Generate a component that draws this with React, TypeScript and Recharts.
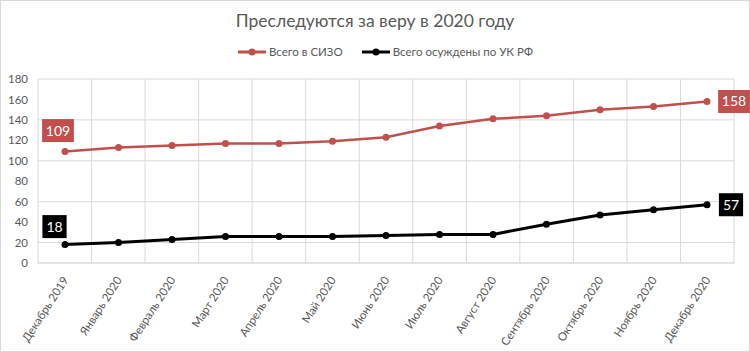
import React from 'react';
import { LineChart, Line, XAxis, YAxis, CartesianGrid, LabelList } from 'recharts';

const months = [
  'Декабрь 2019', 'Январь 2020', 'Февраль 2020', 'Март 2020', 'Апрель 2020', 'Май 2020', 'Июнь 2020',
  'Июль 2020', 'Август 2020', 'Сентябрь 2020', 'Октябрь 2020', 'Ноябрь 2020', 'Декабрь 2020',
];
const sizo = [109, 113, 115, 117, 117, 119, 123, 134, 141, 144, 150, 153, 158];
const convicted = [18, 20, 23, 26, 26, 26, 27, 28, 28, 38, 47, 52, 57];
const yTicks = [0, 20, 40, 60, 80, 100, 120, 140, 160, 180];

const RED = '#c0504d';
const BLACK = '#000000';
const FONT = 'Lato, "Open Sans", sans-serif';

const data = months.map((m, i) => ({ month: m, sizo: sizo[i], convicted: convicted[i] }));

const XTick = (props: any) => {
  const { x, y, payload } = props;
  return (
    <g transform={`translate(${x + 4},${y + 9})`}>
      <text x={0} y={0} textAnchor="end" fontSize={11.5} fill="#595959" fontFamily={FONT} transform="rotate(-57)">
        {payload.value}
      </text>
    </g>
  );
};

// labels only on the first and last point
const makeLabel = (color: string, first: [number, number], last: [number, number]) => (props: any) => {
  const { x, y, value, index } = props;
  if (index !== 0 && index !== months.length - 1) return null;
  const [dx, dy] = index === 0 ? first : last;
  const w = String(value).length * 7.6 + 9;
  const h = 23;
  const cx = x + dx;
  const cy = y + dy;
  return (
    <g>
      <rect x={cx - w / 2} y={cy - h / 2} width={w} height={h} fill={color} />
      <text x={cx} y={cy + 5} textAnchor="middle" fontSize={14} fill="#fff" fontFamily={FONT}>
        {value}
      </text>
    </g>
  );
};

const gridX = (props: any) => {
  const off = props?.offset ?? { left: 38, width: 696 };
  return Array.from({ length: months.length + 1 }, (_, i) => off.left + (i * off.width) / months.length);
};

export default function App() {
  return (
    <div style={{ position: 'absolute', left: 0, top: 0, width: 750, height: 352, background: '#fff', fontFamily: FONT }}>
      <div style={{ position: 'absolute', left: 0, top: 0, width: 750, height: 352, boxSizing: 'border-box', border: '1px solid #d9d9d9', pointerEvents: 'none' }} />
      <div style={{ position: 'absolute', left: 0, top: 10, width: 750, textAlign: 'center', fontSize: 17.5, color: '#595959' }}>
        Преследуются за веру в 2020 году
      </div>
      <div style={{ position: 'absolute', left: 238, top: 45, display: 'flex', alignItems: 'center', fontSize: 11.5, color: '#595959' }}>
        <svg width={28} height={10}><line x1={0} y1={5} x2={28} y2={5} stroke={RED} strokeWidth={3} /><circle cx={14} cy={5} r={3.5} fill={RED} /></svg>
        <span style={{ marginLeft: 3 }}>Всего в СИЗО</span>
        <svg width={28} height={10} style={{ marginLeft: 19 }}><line x1={0} y1={5} x2={28} y2={5} stroke={BLACK} strokeWidth={3} /><circle cx={14} cy={5} r={3.5} fill={BLACK} /></svg>
        <span style={{ marginLeft: 3 }}>Всего осуждены по УК РФ</span>
      </div>
      <LineChart width={750} height={352} data={data} margin={{ top: 79, right: 16, left: 0, bottom: 0 }} style={{ position: 'absolute', left: 0, top: 0 }}>
        <CartesianGrid stroke="#d9d9d9" verticalCoordinatesGenerator={gridX} />
        <XAxis
          dataKey="month"
          interval={0}
          height={89}
          padding={{ left: 27, right: 27 }}
          tickLine={false}
          axisLine={{ stroke: '#d9d9d9' }}
          tick={<XTick />}
        />
        <YAxis
          width={38}
          domain={[0, 180]}
          ticks={yTicks}
          tickLine={false}
          axisLine={false}
          tickMargin={4}
          tick={{ fontSize: 11.5, fill: '#595959', fontFamily: FONT }}
        />
        <Line dataKey="sizo" stroke={RED} strokeWidth={2.5} dot={{ r: 3.5, fill: RED, stroke: RED, strokeWidth: 0 }} isAnimationActive={false}>
          <LabelList dataKey="sizo" content={makeLabel(RED, [-7, -21], [27, 0])} />
        </Line>
        <Line dataKey="convicted" stroke={BLACK} strokeWidth={3} dot={{ r: 3.5, fill: BLACK, stroke: BLACK, strokeWidth: 0 }} isAnimationActive={false}>
          <LabelList dataKey="convicted" content={makeLabel(BLACK, [-10.5, -18], [24, 0])} />
        </Line>
      </LineChart>
    </div>
  );
}
